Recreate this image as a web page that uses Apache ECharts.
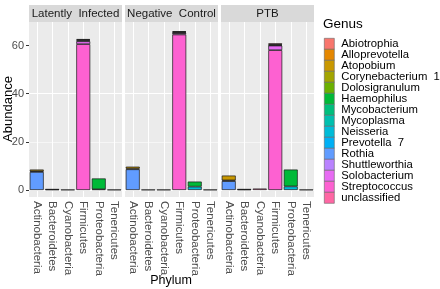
<!DOCTYPE html>
<html>
<head>
<meta charset="utf-8">
<script src="https://cdn.jsdelivr.net/npm/echarts@6/dist/echarts.min.js"></script>
<style>
html, body { margin: 0; padding: 0; background: #fff; }
#main { width: 440px; height: 289px; }
</style>
</head>
<body>
<div id="main"></div>
<script>
var phyla = ['Actinobacteria', 'Bacteroidetes', 'Cyanobacteria', 'Firmicutes', 'Proteobacteria', 'Tenericutes'];
var groups = ['Latently  Infected', 'Negative  Control', 'PTB'];
var genera = ['Abiotrophia', 'Alloprevotella', 'Atopobium', 'Corynebacterium  1', 'Dolosigranulum',
    'Haemophilus', 'Mycobacterium', 'Mycoplasma', 'Neisseria', 'Prevotella  7', 'Rothia',
    'Shuttleworthia', 'Solobacterium', 'Streptococcus', 'unclassified'];
var genusColors = ['#F8766D', '#E58700', '#C99800', '#A3A500', '#6BB100', '#00BA38', '#00BF7D',
    '#00C0AF', '#00BCD8', '#00B0F6', '#619CFF', '#B983FF', '#E76BF3', '#FD61D1', '#FF67A4'];
var yTicks = [0, 20, 40, 60];

// abundance per genus, in order: Latently Infected (6 phyla) | Negative Control (6) | PTB (6)
var abiotrophia     = [0, 0, 0, 0.3, 0, 0,     0, 0, 0, 0.3, 0, 0,     0, 0, 0, 0.4, 0, 0];
var alloprevotella  = [0, 0.1, 0, 0, 0, 0,     0, 0, 0, 0, 0, 0,       0, 0.1, 0, 0, 0, 0];
var atopobium       = [0.7, 0, 0, 0, 0, 0,     0.8, 0, 0, 0, 0, 0,     2.0, 0, 0, 0, 0, 0];
var corynebacterium = [0.3, 0, 0, 0, 0, 0,     0.3, 0, 0, 0, 0, 0,     0.3, 0, 0, 0, 0, 0];
var dolosigranulum  = [0, 0, 0, 0.3, 0, 0,     0, 0, 0, 0.3, 0, 0,     0, 0, 0, 0.3, 0, 0];
var haemophilus     = [0, 0, 0, 0, 4.5, 0,     0, 0, 0, 0, 2.1, 0,     0, 0, 0, 0, 7.0, 0];
var mycobacterium   = [0, 0, 0, 0, 0, 0,       0, 0, 0, 0, 0, 0,       0, 0, 0, 0, 0, 0];
var mycoplasma      = [0, 0, 0, 0, 0, 0.1,     0, 0, 0, 0, 0, 0.1,     0, 0, 0, 0, 0, 0.1];
var neisseria       = [0, 0, 0, 0, 0.3, 0,     0, 0, 0, 0, 1.4, 0,     0, 0, 0, 0, 1.5, 0];
var prevotella7     = [0, 0.2, 0, 0, 0, 0,     0, 0.1, 0, 0, 0, 0,     0, 0.2, 0, 0, 0, 0];
var rothia          = [7.5, 0, 0, 0, 0, 0,     8.6, 0, 0, 0, 0, 0,     3.7, 0, 0, 0, 0, 0];
var shuttleworthia  = [0, 0, 0, 0.3, 0, 0,     0, 0, 0, 0.2, 0, 0,     0, 0, 0, 0.2, 0, 0];
var solobacterium   = [0, 0, 0, 1.2, 0, 0,     0, 0, 0, 0.6, 0, 0,     0, 0, 0, 1.9, 0, 0];
var streptococcus   = [0, 0, 0, 60.6, 0, 0,    0, 0, 0, 64.6, 0, 0,    0, 0, 0, 58.1, 0, 0];
var unclassified    = [0, 0, 0.1, 0, 0, 0,     0, 0, 0.1, 0, 0, 0,     0, 0, 0.6, 0, 0, 0];

var genusValues = [abiotrophia, alloprevotella, atopobium, corynebacterium, dolosigranulum,
    haemophilus, mycobacterium, mycoplasma, neisseria, prevotella7, rothia,
    shuttleworthia, solobacterium, streptococcus, unclassified];

var chart = echarts.init(document.getElementById('main'));
var font = '"Liberation Sans", Arial, sans-serif';

// panel layout (ggplot facets)
var panelLeft = [29, 125, 221];
var panelW = 93;
var panelTop = 22;
var zeroY = 190;
var panelBottom = 197;

var grids = [], xAxes = [], yAxes = [], series = [], graphics = [];

for (var p = 0; p < groups.length; p++) {
    // grid A: bars, grid B: x labels + vertical gridlines
    grids.push({ left: panelLeft[p], top: panelTop, width: panelW, height: zeroY - panelTop });
    grids.push({ left: panelLeft[p], top: panelTop, width: panelW, height: panelBottom - panelTop });

    xAxes.push({
        type: 'category', gridIndex: 2 * p, data: phyla, show: false
    });
    xAxes.push({
        type: 'category', gridIndex: 2 * p + 1, data: phyla, position: 'bottom',
        axisLine: { show: false },
        axisTick: { alignWithLabel: true, length: 3, lineStyle: { color: '#333' } },
        axisLabel: { rotate: -90, interval: 0, margin: 4, fontSize: 11.5, color: '#4D4D4D', fontFamily: font },
        splitLine: { show: false }
    });
    // vertical white gridlines at category centres
    xAxes.push({
        type: 'value', gridIndex: 2 * p + 1, position: 'top', min: 0, max: 12, interval: 1,
        axisLine: { show: false }, axisTick: { show: false }, axisLabel: { show: false },
        splitLine: { show: true, lineStyle: { color: ['rgba(0,0,0,0)', '#ffffff'], width: 1 } }
    });

    yAxes.push({
        type: 'value', gridIndex: 2 * p, min: 0, max: 69.8, interval: 10,
        axisLine: { show: false },
        axisTick: { show: p === 0, length: 3, customValues: yTicks, lineStyle: { color: '#333' } },
        axisLabel: { show: p === 0, customValues: yTicks, margin: 5, fontSize: 11, color: '#4D4D4D', fontFamily: font },
        splitLine: { show: true, showMaxLine: false, lineStyle: { color: ['#ffffff', '#F6F6F6'], width: 1 } }
    });
    yAxes.push({ type: 'value', gridIndex: 2 * p + 1, show: false });

    // first factor level stacks on top, so add from the last genus
    for (var g = genera.length - 1; g >= 0; g--) {
        var vals = genusValues[g].slice(p * 6, p * 6 + 6).map(function (v) { return v === 0 ? '-' : v; });
        series.push({
            name: genera[g],
            type: 'bar',
            xAxisIndex: 3 * p,
            yAxisIndex: 2 * p,
            stack: 'panel' + p,
            barCategoryGap: '10%',
            data: vals,
            itemStyle: { color: genusColors[g], borderColor: '#1a1a1a', borderWidth: 0.7 },
            emphasis: { disabled: true }
        });
    }

    // panel background and facet strip
    graphics.push({
        type: 'rect', z: -10, silent: true,
        shape: { x: panelLeft[p], y: panelTop, width: panelW, height: panelBottom - panelTop },
        style: { fill: '#EBEBEB' }
    });
    graphics.push({
        type: 'rect', z: -10, silent: true,
        shape: { x: panelLeft[p], y: 5, width: panelW, height: panelTop - 5 },
        style: { fill: '#D9D9D9' }
    });
    graphics.push({
        type: 'text', silent: true,
        x: panelLeft[p] + panelW / 2, y: 14,
        style: { text: groups[p], fill: '#1A1A1A', font: '11.5px ' + font, align: 'center', verticalAlign: 'middle' }
    });
}

// axis titles and legend title
graphics.push({
    type: 'text', silent: true, x: 171, y: 281,
    style: { text: 'Phylum', fill: '#000', font: '12.5px ' + font, align: 'center', verticalAlign: 'middle' }
});
graphics.push({
    type: 'text', silent: true, x: 8, y: 109, rotation: Math.PI / 2,
    style: { text: 'Abundance', fill: '#000', font: '13px ' + font, align: 'center', verticalAlign: 'middle' }
});
graphics.push({
    type: 'text', silent: true, x: 323, y: 24,
    style: { text: 'Genus', fill: '#000', font: '13.5px ' + font, align: 'left', verticalAlign: 'middle' }
});

var option = {
    animation: false,
    backgroundColor: '#ffffff',
    grid: grids,
    xAxis: xAxes,
    yAxis: yAxes,
    series: series,
    graphic: graphics,
    legend: {
        data: genera,
        orient: 'vertical',
        left: 319,
        top: 33,
        itemWidth: 10,
        itemHeight: 11,
        itemGap: -0.6,
        icon: 'rect',
        selectedMode: false,
        itemStyle: { borderColor: '#666', borderWidth: 0.6 },
        textStyle: { fontSize: 11.3, lineHeight: 10, color: '#000', fontFamily: font, padding: [0, 0, 0, 2] }
    }
};

chart.setOption(option);
</script>
</body>
</html>
